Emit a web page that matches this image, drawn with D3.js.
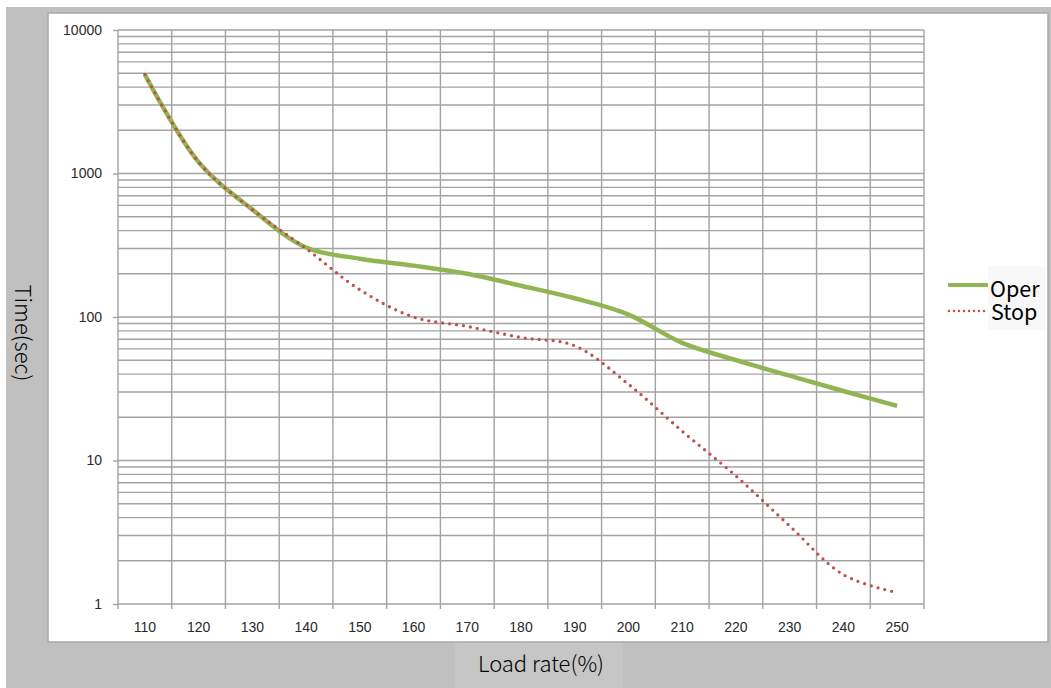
<!DOCTYPE html>
<html>
<head>
<meta charset="utf-8">
<script src="https://cdn.jsdelivr.net/npm/d3@7"></script>
<style>
  html, body { margin: 0; padding: 0; background: #ffffff; }
  svg { display: block; }
</style>
</head>
<body>
<svg id="chart" width="1051" height="688"></svg>
<script>
// ---- data ----
const categories = [110, 120, 130, 140, 150, 160, 170, 180, 190, 200, 210, 220, 230, 240, 250];
const operValues = [4900, 1200, 560, 305, 255, 228, 200, 165, 135, 104, 66, 50, 39, 30.5, 24];
const stopValues = [4900, 1200, 560, 300, 155, 100, 86, 72, 63, 34, 16, 7.8, 3.5, 1.6, 1.2];
const yTickValues = [1, 10, 100, 1000, 10000];
const seriesNames = ["Oper", "Stop"];
const xTitle = "Load rate(%)";
const yTitle = "Time(sec)";

const titleFont = "'Noto Sans CJK KR', 'Noto Sans', sans-serif";

const svg = d3.select("#chart");

// frame
svg.append("rect").attr("x", 6).attr("y", 7).attr("width", 1045).attr("height", 681).attr("fill", "#c0c0c0");
svg.append("rect").attr("x", 48).attr("y", 13).attr("width", 1000).attr("height", 629)
  .attr("fill", "#ffffff").attr("stroke", "#a8a8a8").attr("stroke-width", 1.5);
// light box behind x title
svg.append("rect").attr("x", 455).attr("y", 643).attr("width", 168).attr("height", 45).attr("fill", "#c6c6c6");

const x = d3.scaleBand().domain(categories).range([118, 924]).paddingInner(0).paddingOuter(0);
const y = d3.scaleLog().domain([1, 10000]).range([604, 30]);

const grid = svg.append("g").attr("stroke", "#a3a3a3").attr("stroke-width", 1.4);
const hVals = y.ticks();
grid.selectAll("line.h").data(hVals).join("line")
  .attr("x1", 118).attr("x2", 924)
  .attr("y1", d => y(d)).attr("y2", d => y(d));
const bounds = categories.map(c => x(c)).concat([x.range()[1]]);
grid.selectAll("line.v").data(bounds).join("line")
  .attr("x1", d => d).attr("x2", d => d)
  .attr("y1", 30).attr("y2", 609);

// y axis
const yAxis = svg.append("g").attr("transform", "translate(118,0)")
  .call(d3.axisLeft(y).tickValues(yTickValues).tickFormat(d3.format("d")).tickSize(5).tickPadding(11));
yAxis.select(".domain").remove();
yAxis.selectAll(".tick line").attr("stroke", "#a3a3a3").attr("stroke-width", 1.4);
yAxis.selectAll("text").attr("fill", "#2a2a2a").style("font-family", "'Liberation Sans', Arial, sans-serif").style("font-size", "14px");

// x axis
const xAxis = svg.append("g").attr("transform", "translate(0,604)")
  .call(d3.axisBottom(x).tickSize(0).tickPadding(18));
xAxis.select(".domain").remove();
xAxis.selectAll("text").attr("fill", "#2a2a2a").style("font-family", "'Liberation Sans', Arial, sans-serif").style("font-size", "14px");

// lines
const line = (vals) => d3.line()
  .x((d, i) => x(categories[i]) + x.bandwidth() / 2)
  .y(d => y(d))
  .curve(d3.curveCatmullRom.alpha(0.5))(vals);

svg.append("path").attr("d", line(operValues))
  .attr("fill", "none").attr("stroke", "#92b553").attr("stroke-width", 4.5).attr("stroke-linejoin", "round");
svg.append("path").attr("d", line(stopValues))
  .attr("fill", "none").attr("stroke", "#c0504d").attr("stroke-width", 3.3)
  .attr("stroke-dasharray", "0 7").attr("stroke-linecap", "round");

// legend
svg.append("rect").attr("x", 988).attr("y", 266).attr("width", 58).attr("height", 64).attr("fill", "#f8f8f8");
svg.append("line").attr("x1", 948).attr("x2", 988).attr("y1", 285).attr("y2", 285)
  .attr("stroke", "#92b553").attr("stroke-width", 4);
svg.append("line").attr("x1", 949).attr("x2", 988).attr("y1", 311).attr("y2", 311)
  .attr("stroke", "#c0504d").attr("stroke-width", 2.5).attr("stroke-dasharray", "0 5").attr("stroke-linecap", "round");
const lg = svg.append("g").style("font-family", titleFont).style("font-size", "21.5px").attr("fill", "#000");
lg.append("text").attr("x", 990).attr("y", 297).text(seriesNames[0]);
lg.append("text").attr("x", 991).attr("y", 320).text(seriesNames[1]);

// titles
svg.append("text").attr("x", 541).attr("y", 672).attr("text-anchor", "middle")
  .style("font-family", titleFont).style("font-weight", 300).style("font-size", "22px").attr("fill", "#000").text(xTitle);
svg.append("text").attr("transform", "translate(15,333) rotate(90)").attr("text-anchor", "middle")
  .style("font-family", titleFont).style("font-weight", 300).style("font-size", "22px").attr("fill", "#000").text(yTitle);
</script>
</body>
</html>
